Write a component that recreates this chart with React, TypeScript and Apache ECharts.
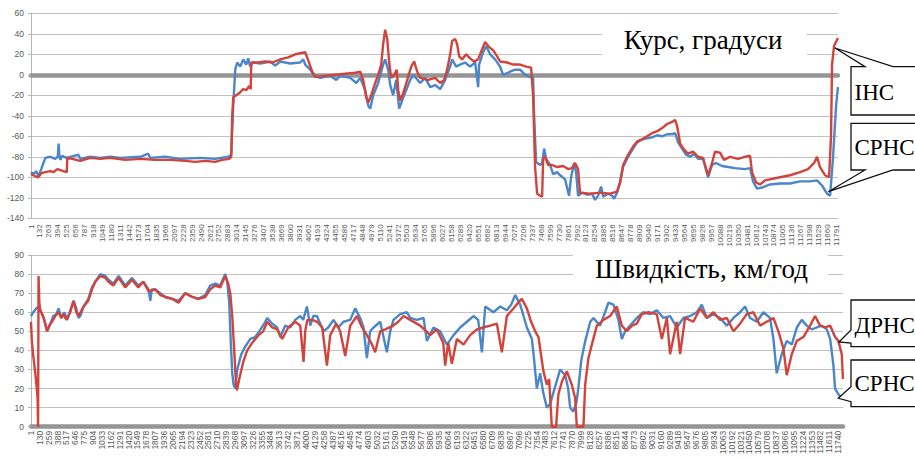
import React, { useEffect, useRef } from "react";
import * as echarts from "echarts";

// ---- Data (x = sample index − 1, y = value) ----
const courseTitle = "Курс, градуси";
const speedTitle = "Швидкість, км/год";
const courseLabels = ["ІНС", "СРНС"];
const speedLabels = ["ДРНС", "СРНС"];

const sampleCount = 11810;
const courseTickStep = 131;
const speedTickStep = 129;
const courseRange = [-140, 60, 20];
const speedRange = [0, 90, 10];

// Top chart: heading, degrees — СРНС (blue)
const courseSrns: [number, number][] = [
  [0, -95], [34, -97], [78, -94], [107, -99], [150, -92], [209, -81], [282, -80], [355, -82], [392, -80], [404, -67],
  [414, -78], [429, -83], [458, -79], [516, -81], [575, -80], [692, -78], [721, -82], [868, -80], [1014, -81], [1160, -80],
  [1306, -81], [1599, -80], [1716, -77], [1745, -81], [1965, -80], [2184, -82], [2476, -81], [2696, -82], [2886, -80], [2930, -78],
  [2960, -30], [2989, 5], [3018, 12], [3062, 8], [3106, 15], [3150, 10], [3179, 16], [3208, 8], [3252, 12], [3355, 11],
  [3501, 13], [3574, 9], [3647, 13], [3793, 11], [3940, 12], [3984, 15], [4013, 10], [4087, 5], [4145, -1], [4233, -3],
  [4380, -1], [4467, -5], [4525, -1], [4672, -3], [4760, -8], [4818, -3], [4891, -15], [4935, -30], [4964, -33], [5008, -20],
  [5081, -8], [5154, 10], [5183, 15], [5227, 5], [5257, -10], [5300, -20], [5344, -5], [5388, -33], [5432, -25], [5491, -15],
  [5549, -5], [5593, 0], [5696, -8], [5769, -3], [5842, -12], [5915, -10], [5988, -14], [6061, -5], [6134, 8], [6163, 15],
  [6222, 8], [6280, 10], [6353, 12], [6426, 8], [6500, 12], [6544, -12], [6558, 10], [6617, 22], [6661, 28], [6719, 20],
  [6792, 15], [6865, 8], [6909, 0], [7012, 3], [7085, 5], [7158, 5], [7231, 0], [7304, -2], [7348, -3], [7363, -40],
  [7392, -85], [7451, -88], [7480, -86], [7509, -72], [7538, -82], [7597, -88], [7641, -97], [7699, -95], [7743, -98], [7816, -102],
  [7874, -118], [7904, -100], [7948, -86], [7977, -95], [8006, -118], [8065, -115], [8138, -117], [8211, -116], [8255, -122], [8299, -118],
  [8343, -109], [8372, -119], [8445, -116], [8504, -118], [8533, -121], [8577, -115], [8621, -105], [8665, -90], [8738, -80], [8811, -72],
  [8870, -66], [8943, -63], [9016, -62], [9089, -61], [9163, -59], [9236, -60], [9309, -58], [9382, -58], [9426, -57], [9470, -66],
  [9528, -72], [9587, -78], [9645, -80], [9704, -77], [9762, -82], [9835, -82], [9908, -100], [9967, -88], [10025, -86], [10113, -89],
  [10201, -90], [10303, -91], [10450, -92], [10523, -91], [10567, -104], [10625, -111], [10698, -110], [10816, -107], [10962, -106], [11108, -106],
  [11255, -104], [11401, -104], [11503, -103], [11576, -108], [11650, -116], [11694, -118], [11738, -80], [11782, -30], [11809, -12],
];

// Top chart: heading, degrees — ІНС (red)
const courseIns: [number, number][] = [
  [0, -97], [63, -99], [107, -100], [150, -96], [209, -95], [282, -94], [326, -95], [385, -92], [429, -93], [473, -94],
  [524, -95], [531, -81], [604, -82], [721, -84], [868, -81], [1014, -82], [1160, -81], [1380, -83], [1599, -82], [1818, -83],
  [2038, -83], [2257, -84], [2403, -85], [2550, -84], [2696, -85], [2799, -83], [2901, -82], [2930, -80], [2945, -40], [2960, -22],
  [3004, -20], [3062, -17], [3106, -14], [3150, -15], [3194, -11], [3216, -14], [3223, 12], [3325, 12], [3428, 13], [3530, 12],
  [3647, 15], [3764, 17], [3867, 20], [3940, 21], [4013, 22], [4057, 14], [4116, 3], [4160, -2], [4306, -1], [4452, 0],
  [4599, 1], [4745, 2], [4818, 3], [4862, -5], [4906, -22], [4935, -27], [4979, -20], [5037, -8], [5081, 0], [5125, 10],
  [5154, 30], [5183, 44], [5213, 35], [5242, 12], [5271, -3], [5315, 0], [5352, 5], [5374, -15], [5403, -25], [5447, -18],
  [5506, -5], [5564, 8], [5608, 13], [5652, 3], [5696, -3], [5813, -5], [5915, -3], [5988, -8], [6047, -5], [6090, 5],
  [6134, 20], [6163, 33], [6207, 35], [6236, 30], [6266, 18], [6309, 15], [6368, 20], [6426, 16], [6485, 13], [6544, 15],
  [6602, 25], [6646, 32], [6705, 27], [6763, 24], [6822, 18], [6865, 13], [6968, 12], [7056, 10], [7158, 10], [7246, 8],
  [7319, 7], [7348, -20], [7377, -90], [7407, -116], [7451, -118], [7480, -119], [7495, -82], [7524, -80], [7568, -88], [7626, -88],
  [7699, -90], [7787, -89], [7860, -92], [7918, -91], [7962, -86], [8006, -92], [8035, -115], [8182, -116], [8328, -115], [8474, -116],
  [8577, -114], [8621, -105], [8665, -88], [8738, -78], [8811, -70], [8870, -65], [8943, -63], [9016, -60], [9089, -57], [9163, -55],
  [9236, -52], [9309, -48], [9382, -46], [9426, -44], [9456, -50], [9499, -67], [9558, -73], [9616, -77], [9689, -75], [9762, -80],
  [9835, -81], [9908, -98], [9967, -86], [10011, -75], [10084, -76], [10142, -83], [10230, -80], [10347, -82], [10450, -80], [10523, -79],
  [10552, -95], [10611, -105], [10669, -107], [10742, -103], [10816, -102], [10962, -100], [11108, -98], [11255, -95], [11372, -92], [11460, -86],
  [11503, -80], [11547, -90], [11620, -98], [11679, -100], [11708, -60], [11723, 10], [11752, 28], [11809, 36],
];

// Bottom chart: speed, km/h — ДРНС (red)
const speedDrns: [number, number][] = [
  [0, 55], [12, 45], [33, 37], [63, 28], [84, 20], [96, 15], [103, 0], [110, 79], [121, 65], [135, 61],
  [164, 59], [193, 56], [233, 50], [266, 53], [305, 55], [353, 58], [401, 60], [441, 57], [474, 59], [513, 56],
  [571, 60], [619, 66], [659, 60], [692, 58], [765, 63], [833, 66], [887, 72], [935, 76], [1008, 79], [1081, 78],
  [1128, 76], [1197, 74], [1274, 78], [1371, 73], [1469, 77], [1560, 73], [1633, 76], [1710, 71], [1807, 72], [1880, 69],
  [1953, 68], [2055, 67], [2146, 65], [2244, 70], [2345, 68], [2433, 67], [2534, 68], [2607, 72], [2680, 74], [2752, 73],
  [2825, 79], [2869, 75], [2898, 70], [2927, 58], [2956, 40], [2978, 25], [2995, 19], [3029, 25], [3087, 34], [3145, 40],
  [3218, 44], [3309, 48], [3378, 50], [3436, 55], [3508, 52], [3581, 51], [3654, 46], [3741, 52], [3843, 55], [3916, 53],
  [3964, 34], [3988, 50], [4018, 56], [4090, 56], [4163, 55], [4236, 52], [4304, 32], [4352, 48], [4439, 54], [4497, 50],
  [4570, 37], [4643, 53], [4740, 58], [4817, 52], [4885, 48], [4948, 44], [5006, 39], [5079, 50], [5152, 51], [5268, 53],
  [5341, 55], [5418, 58], [5515, 56], [5661, 53], [5806, 48], [5903, 51], [5995, 44], [6024, 32], [6068, 44], [6121, 33],
  [6194, 46], [6290, 43], [6388, 48], [6485, 51], [6576, 52], [6678, 53], [6776, 54], [6848, 39], [6921, 58], [7017, 62],
  [7085, 65], [7139, 67], [7212, 62], [7274, 55], [7333, 50], [7381, 47], [7453, 29], [7503, 22], [7536, 25], [7575, 0],
  [7637, 0], [7671, 17], [7725, 24], [7794, 29], [7866, 22], [7914, 15], [7939, 0], [8035, 0], [8060, 22], [8108, 36],
  [8157, 43], [8230, 53], [8326, 56], [8423, 58], [8520, 63], [8593, 53], [8666, 50], [8739, 53], [8811, 54], [8884, 59],
  [8981, 60], [9102, 59], [9175, 46], [9248, 57], [9295, 38], [9393, 55], [9441, 38], [9513, 57], [9634, 55], [9732, 62],
  [9829, 57], [9926, 60], [10023, 56], [10120, 57], [10217, 50], [10313, 54], [10410, 59], [10507, 60], [10604, 53], [10701, 55],
  [10798, 57], [10871, 50], [10943, 41], [10992, 27], [11065, 38], [11138, 45], [11234, 47], [11331, 53], [11404, 58], [11477, 53],
  [11550, 52], [11623, 53], [11695, 47], [11743, 45], [11792, 38], [11809, 25],
];

// Bottom chart: speed, km/h — СРНС (blue)
const speedSrns: [number, number][] = [
  [0, 58], [33, 60], [77, 62], [106, 63], [150, 60], [193, 56], [233, 50], [281, 54], [324, 58], [368, 59],
  [401, 62], [441, 57], [484, 60], [528, 56], [571, 61], [619, 66], [659, 62], [692, 57], [717, 58], [765, 63],
  [833, 67], [887, 73], [935, 76], [1008, 80], [1081, 79], [1128, 77], [1197, 75], [1274, 79], [1371, 74], [1469, 78],
  [1560, 74], [1633, 76], [1710, 72], [1735, 66], [1756, 72], [1807, 72], [1880, 70], [1953, 68], [2055, 67], [2146, 66],
  [2244, 70], [2345, 68], [2433, 67], [2534, 69], [2607, 74], [2680, 75], [2752, 74], [2825, 80], [2854, 76], [2883, 65],
  [2905, 45], [2927, 28], [2946, 22], [2971, 20], [3000, 30], [3058, 38], [3116, 42], [3189, 46], [3262, 47], [3320, 50],
  [3392, 54], [3436, 57], [3508, 54], [3581, 52], [3625, 47], [3698, 53], [3770, 52], [3843, 56], [3916, 58], [3959, 56],
  [4013, 63], [4061, 53], [4105, 58], [4158, 58], [4255, 50], [4323, 52], [4400, 56], [4468, 52], [4545, 55], [4643, 56],
  [4715, 62], [4788, 57], [4836, 52], [4885, 36], [4933, 50], [4982, 52], [5079, 55], [5176, 39], [5224, 50], [5272, 56],
  [5370, 59], [5467, 60], [5515, 57], [5612, 56], [5709, 57], [5758, 45], [5854, 52], [5951, 50], [6049, 43], [6146, 48],
  [6242, 52], [6340, 55], [6436, 58], [6504, 56], [6558, 39], [6606, 63], [6726, 60], [6824, 63], [6921, 61], [6984, 64],
  [7043, 69], [7115, 64], [7212, 52], [7285, 46], [7318, 35], [7357, 20], [7405, 28], [7449, 18], [7503, 10], [7551, 12],
  [7599, 18], [7696, 30], [7769, 27], [7813, 20], [7842, 10], [7886, 8], [7930, 12], [7960, 20], [8004, 35], [8062, 45],
  [8134, 55], [8180, 57], [8277, 53], [8350, 60], [8398, 65], [8471, 64], [8544, 56], [8593, 46], [8641, 50], [8714, 53],
  [8811, 57], [8907, 60], [9005, 59], [9102, 61], [9198, 57], [9295, 58], [9393, 52], [9489, 57], [9586, 58], [9684, 60],
  [9756, 64], [9829, 57], [9926, 59], [10023, 57], [10120, 53], [10217, 57], [10313, 60], [10386, 63], [10459, 57], [10556, 55],
  [10652, 60], [10749, 57], [10798, 46], [10846, 28], [10919, 38], [10992, 45], [11065, 43], [11138, 52], [11210, 56], [11283, 53],
  [11356, 51], [11428, 52], [11501, 53], [11574, 51], [11623, 46], [11671, 32], [11695, 20], [11743, 17], [11792, 15],
];

const BLUE = "#4a86c9";
const RED = "#d2433c";
const GRID_LINE = "#c2c2c2";
const AXIS_TEXT = "#595959";
const SANS = "'Liberation Sans', Arial, sans-serif";
const SERIF = "'Liberation Serif', 'Times New Roman', serif";

function xAxisFor(gridIndex: number, step: number, fontSize: number, margin: number) {
  return {
    gridIndex,
    type: "value",
    min: 0,
    max: sampleCount,
    interval: step,
    axisLine: { onZero: true, lineStyle: { color: "#959595", width: 4.5 } },
    axisTick: { show: false },
    splitLine: { show: false },
    axisLabel: {
      rotate: 90,
      fontSize,
      color: AXIS_TEXT,
      fontFamily: SANS,
      margin,
      showMaxLabel: false,
      formatter: (v: number) => String(Math.round(v) + 1),
    },
  };
}

function yAxisFor(gridIndex: number, range: number[], fontSize: number) {
  return {
    gridIndex,
    type: "value",
    min: range[0],
    max: range[1],
    interval: range[2],
    axisLine: { show: true, lineStyle: { color: "#b5b5b5", width: 1 } },
    axisTick: { show: true, length: 3, lineStyle: { color: "#b5b5b5" } },
    splitLine: { show: true, lineStyle: { color: GRID_LINE, width: 1 } },
    axisLabel: { fontSize, color: AXIS_TEXT, fontFamily: SANS, margin: 7 },
  };
}

function line(name: string, data: [number, number][], color: string, idx: number) {
  return {
    name,
    type: "line",
    xAxisIndex: idx,
    yAxisIndex: idx,
    data,
    showSymbol: false,
    symbol: "none",
    lineStyle: { color, width: 2.4 },
    itemStyle: { color },
    z: 3,
  };
}

function callout(points: number[][]) {
  return {
    type: "polygon",
    z: 100,
    shape: { points },
    style: { fill: "#ffffff", stroke: "#111111", lineWidth: 1.3 },
  };
}

function label(text: string, x: number, y: number, size: number, align = "left") {
  return {
    type: "text",
    z: 101,
    x,
    y,
    style: {
      text,
      fill: "#000000",
      font: `${size}px ${SERIF}`,
      align,
      verticalAlign: "middle",
    },
  };
}

export default function App() {
  const ref = useRef<HTMLDivElement>(null);

  useEffect(() => {
    if (!ref.current) return;
    const chart = echarts.init(ref.current, undefined, { renderer: "svg" });
    chart.setOption({
      animation: false,
      backgroundColor: "#ffffff",
      grid: [
        { left: 31, top: 13.3, width: 807, height: 205 },
        { left: 31, top: 255, width: 812, height: 171.7 },
      ],
      xAxis: [xAxisFor(0, courseTickStep, 8, 6), xAxisFor(1, speedTickStep, 8.5, 4)],
      yAxis: [yAxisFor(0, courseRange, 8.5), yAxisFor(1, speedRange, 8.5)],
      series: [
        line(courseLabels[1], courseSrns, BLUE, 0),
        line(courseLabels[0], courseIns, RED, 0),
        line(speedLabels[1], speedSrns, BLUE, 1),
        line(speedLabels[0], speedDrns, RED, 1),
      ],
      graphic: [
        { type: "rect", z: 99, shape: { x: 602, y: 24, width: 205, height: 38 }, style: { fill: "#ffffff" } },
        label(courseTitle, 703, 39.5, 27, "center"),
        { type: "rect", z: 99, shape: { x: 573, y: 249, width: 255, height: 37 }, style: { fill: "#ffffff" } },
        label(speedTitle, 701.5, 268.6, 27, "center"),
        callout([[925, 66.7], [893, 66.7], [835, 48], [865, 66.7], [851, 66.7], [851, 115], [925, 115]]),
        label(courseLabels[0], 854.5, 92, 23),
        callout([[851, 123.3], [925, 123.3], [925, 170], [893, 170], [828.3, 191.7], [865, 170], [851, 170]]),
        label(courseLabels[1], 854.5, 147, 23),
        callout([[851, 300], [925, 300], [925, 346.7], [851, 346.7], [851, 343], [839, 342], [851, 330]]),
        label(speedLabels[0], 854.5, 325, 23),
        callout([[851, 360], [925, 360], [925, 406.7], [851, 406.7], [851, 401.7], [838.3, 398.3], [851, 386.7]]),
        label(speedLabels[1], 854.5, 383, 23),
      ],
    });
    return () => chart.dispose();
  }, []);

  return (
    <div
      ref={ref}
      style={{ position: "fixed", left: 0, top: 0, width: 915, height: 459, background: "#ffffff" }}
    />
  );
}
